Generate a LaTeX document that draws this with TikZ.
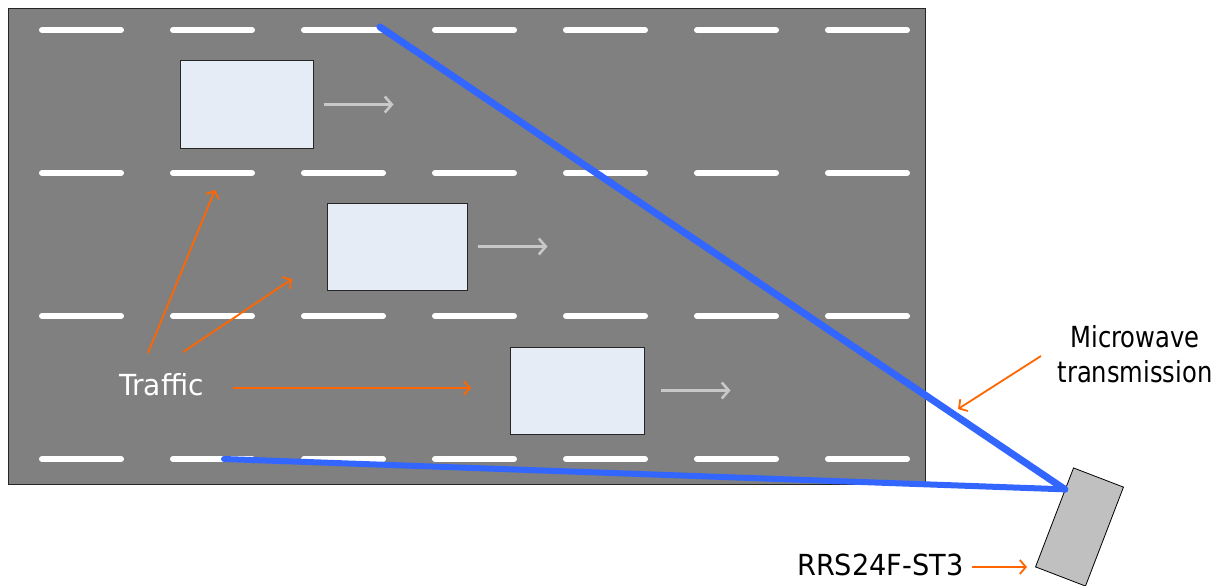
\documentclass[tikz,border=0pt]{standalone}
\usepackage{fontspec}
\setmainfont{DejaVu Sans}[FakeStretch=0.88]
\usetikzlibrary{arrows.meta,calc}
\definecolor{road}{HTML}{808080}
\definecolor{carfill}{HTML}{E6ECF6}
\definecolor{beam}{HTML}{3366FF}
\definecolor{note}{HTML}{FF6600}
\definecolor{devfill}{HTML}{C0C0C0}
\definecolor{motion}{HTML}{C8C8C8}
\tikzset{
  roadbox/.style={fill=road, draw=black!85, line width=0.8pt},
  lane/.style={white, line width=6pt, line cap=round},
  carbox/.style={draw=black!85, fill=carfill, line width=1pt, minimum width=133pt, minimum height=87pt, inner sep=0pt},
  motionarrow/.style={motion, line width=2.6pt, -{Straight Barb[length=7pt,width=16pt,line width=2.6pt]}},
  notearrow/.style={note, line width=1.8pt, -{Straight Barb[length=6pt,width=14pt,line width=1.8pt]}},
  beamline/.style={beam, line width=7pt, line cap=round},
  devbox/.style={draw=black, fill=devfill, line width=0.8pt, minimum width=53.5pt, minimum height=106pt, inner sep=0pt, rotate=-21},
  lbl/.style={font=\fontsize{29}{35}\selectfont, inner sep=0pt}
}
\begin{document}
\begin{tikzpicture}[x=1pt,y=-1pt]
\useasboundingbox (0,0) rectangle (1229,586);
\clip (0,0) rectangle (1229,586);
\draw[roadbox] (8,8) rectangle (925,484);
\foreach \y in {30,173,316,459}{
  \foreach \x in {39,170,301,432,563,694,825}{
    \draw[lane] (\x+3,\y) -- (\x+82,\y);
  }
}
\node[carbox] (car1) at (246.5,104.5) {};
\node[carbox, minimum width=140pt] (car2) at (397,246.5) {};
\node[carbox, minimum width=134pt] (car3) at (577,390.5) {};
\draw[motionarrow] ([xshift=10pt]car1.east) -- ++(70,0);
\draw[motionarrow] ([xshift=10pt]car2.east) -- ++(70,0);
\draw[motionarrow] ([xshift=16pt]car3.east) -- ++(70,0);

\node[lbl, white] (traffic) at (161.5,385) {\scalebox{1.1}[1]{Traffic}};
\coordinate (t1s) at (148,353);
\coordinate (t1e) at (215,190);
\coordinate (t2s) at (183,352);
\coordinate (t2e) at (292,279);
\coordinate (t3s) at (233,388);
\coordinate (t3e) at (471,388);
\draw[notearrow] (t1s) -- (t1e);
\draw[notearrow] (t2s) -- (t2e);
\draw[notearrow] (t3s) -- (t3e);

\node[devbox] (dev) at (1079.5,527) {};
\coordinate (feed) at ($(dev.north west)!0.22!(dev.south west)$);
\coordinate (b1) at (380,27);
\coordinate (b2) at (224,459);
\draw[beamline] (b1) -- (feed);
\draw[beamline, line width=6pt] (b2) -- (feed);

\node[lbl, align=center] (mw) at (1135,354) {\scalebox{0.95}[1]{Microwave}\\\scalebox{0.95}[1]{transmission}};
\coordinate (mws) at (1041,356);
\coordinate (mwe) at (958,409);
\draw[notearrow] (mws) -- (mwe);

\node[lbl, anchor=base west] (rrs) at (797,575) {\scalebox{1.065}[1]{RRS24F-ST3}};
\coordinate (rrss) at (972,567);
\coordinate (rrse) at (1027,567);
\draw[notearrow] (rrss) -- (rrse);
\end{tikzpicture}
\end{document}
